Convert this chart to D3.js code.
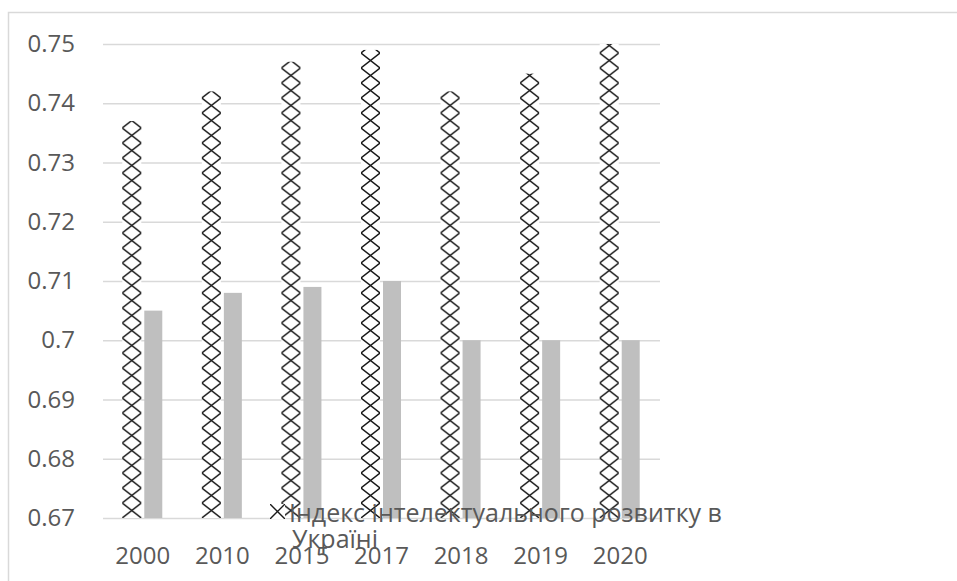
<!DOCTYPE html>
<html>
<head>
<meta charset="utf-8">
<script src="https://cdn.jsdelivr.net/npm/d3@7"></script>
<style>
  html, body { margin: 0; padding: 0; background: #fff; }
  svg { display: block; }
  text { font-family: "Open Sans", "Noto Sans", sans-serif; fill: #595959; }
</style>
</head>
<body>
<svg id="chart" width="957" height="581"></svg>
<script>
// Index of intellectual development by year
const years = ["2000", "2010", "2015", "2017", "2018", "2019", "2020"];
const indexUkraine = [0.737, 0.742, 0.747, 0.749, 0.742, 0.745, 0.750];
const indexSecond = [0.705, 0.708, 0.709, 0.710, 0.700, 0.700, 0.700];
const yTicks = [0.67, 0.68, 0.69, 0.70, 0.71, 0.72, 0.73, 0.74, 0.75];
const legendLines = ["Індекс інтелектуального розвитку в", "Україні"];

const svg = d3.select("#chart");
const margin = { left: 103, right: 297, top: 44, bottom: 63 };
const W = 957, H = 581;

// outer chart frame
svg.append("rect")
  .attr("x", 8.5).attr("y", 12.5)
  .attr("width", W + 20).attr("height", H + 20)
  .attr("fill", "none").attr("stroke", "#d9d9d9").attr("stroke-width", 1.5);

const x = d3.scaleBand().domain(years)
  .range([margin.left, W - margin.right]).paddingInner(0.48).paddingOuter(0.24);
const y = d3.scaleLinear().domain([0.67, 0.75]).range([H - margin.bottom, margin.top]);

const barW = 19, gap = 3;

// gridlines
svg.append("g")
  .attr("transform", `translate(${margin.left},0)`)
  .call(d3.axisLeft(y).tickValues(yTicks).tickSize(-(W - margin.right - margin.left)).tickFormat(""))
  .call(g => g.select(".domain").remove())
  .call(g => g.selectAll(".tick line").attr("stroke", "#d9d9d9").attr("stroke-width", 1.5));

// y labels
svg.append("g")
  .attr("transform", `translate(75,0)`)
  .call(d3.axisLeft(y).tickValues(yTicks).tickSize(0).tickPadding(0).tickFormat(d => d3.format("")(+d.toFixed(2))))
  .call(g => g.select(".domain").remove())
  .call(g => g.selectAll("text").attr("font-size", 24).attr("fill", "#595959")
    .attr("font-family", "'Open Sans', sans-serif"));

// diagonal-cross patterns, one per bar so the lattice centers on each bar
const defs = svg.append("defs");
const tileW = 19, tileH = 15;
function crossPattern(id, cx, y0) {
  const p = defs.append("pattern").attr("id", id)
    .attr("patternUnits", "userSpaceOnUse")
    .attr("x", cx - tileW / 2).attr("y", y0)
    .attr("width", tileW).attr("height", tileH);
  p.append("rect").attr("width", tileW).attr("height", tileH).attr("fill", "#fff");
  p.append("path")
    .attr("d", `M0,0L${tileW},${tileH}M${tileW},0L0,${tileH}`)
    .attr("stroke", "#1a1a1a").attr("stroke-width", 1.4).attr("fill", "none");
}

const bw = x.bandwidth();
years.forEach((yr, i) => {
  const cx = x(yr) + bw / 2 - (barW + gap) / 2;
  crossPattern("pat" + i, cx, y(0.67));
});

// hatched bars
svg.append("g").selectAll("rect")
  .data(years.map((d, i) => ({ year: d, v: indexUkraine[i], i })))
  .join("rect")
  .attr("x", d => x(d.year) + bw / 2 - gap / 2 - barW)
  .attr("width", barW)
  .attr("y", d => y(d.v))
  .attr("height", d => y(0.67) - y(d.v))
  .attr("fill", d => `url(#pat${d.i})`);

// grey bars
svg.append("g").selectAll("rect")
  .data(years.map((d, i) => ({ year: d, v: indexSecond[i] })))
  .join("rect")
  .attr("x", d => x(d.year) + bw / 2 + gap / 2)
  .attr("width", barW - 1)
  .attr("y", d => y(d.v))
  .attr("height", d => y(0.67) - y(d.v))
  .attr("fill", "#bfbfbf");

// x labels
svg.append("g")
  .attr("transform", `translate(0,${y(0.67) + 29})`)
  .call(d3.axisBottom(x).tickSize(0).tickPadding(0))
  .call(g => g.select(".domain").remove())
  .call(g => g.selectAll("text").attr("font-size", 24).attr("fill", "#595959")
    .attr("font-family", "'Open Sans', sans-serif"));

// legend
const lg = svg.append("g").attr("transform", "translate(270,504)");
defs.append("pattern").attr("id", "patLegend")
  .attr("patternUnits", "userSpaceOnUse").attr("x", 0).attr("y", 0)
  .attr("width", 15).attr("height", 15)
  .call(p => {
    p.append("rect").attr("width", 15).attr("height", 15).attr("fill", "#fff");
    p.append("path").attr("d", "M0,0L15,15M15,0L0,15")
      .attr("stroke", "#1a1a1a").attr("stroke-width", 1.4);
  });
lg.append("rect").attr("width", 15).attr("height", 15).attr("fill", "url(#patLegend)");
lg.append("text")
  .attr("y", 18)
  .attr("font-size", 25)
  .selectAll("tspan").data(legendLines).join("tspan")
  .attr("x", (d, i) => i === 0 ? 19 : 22)
  .attr("dy", (d, i) => i === 0 ? 0 : 26)
  .text(d => d);
</script>
</body>
</html>
